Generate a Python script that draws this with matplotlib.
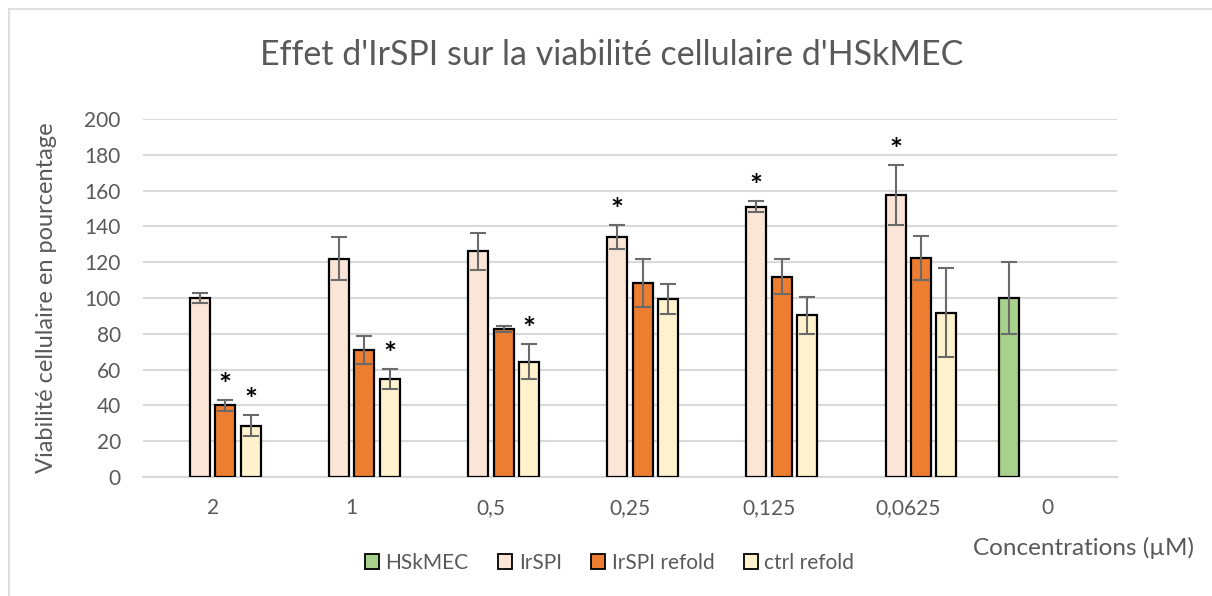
import numpy as np
import matplotlib.pyplot as plt
from matplotlib.patches import Patch
from matplotlib.lines import Line2D

plt.rcParams['font.family'] = ['Lato', 'DejaVu Sans']

# concentrations (µM) on the x axis
categories = ['2', '1', '0,5', '0,25', '0,125', '0,0625', '0']

# viability (%) and error bars per series; nan = no bar in that group
hskmec = [np.nan, np.nan, np.nan, np.nan, np.nan, np.nan, 100]
hskmec_err = [0, 0, 0, 0, 0, 0, 20]
irspi = [100, 122, 126, 134, 151, 157.5, np.nan]
irspi_err = [3, 12, 10.5, 6.7, 3.2, 16.6, 0]
irspi_refold = [40, 71, 82.5, 108.5, 112, 122.5, np.nan]
irspi_refold_err = [3, 8, 1.6, 13.3, 10, 12.2, 0]
ctrl_refold = [28.7, 54.5, 64.4, 99.5, 90.3, 91.8, np.nan]
ctrl_refold_err = [5.8, 5.6, 9.8, 8.6, 10.5, 25, 0]

# significant differences (asterisk above the bar)
sig_hskmec = [False] * 7
sig_irspi = [False, False, False, True, True, True, False]
sig_irspi_refold = [True, False, False, False, False, False, False]
sig_ctrl_refold = [True, True, True, False, False, False, False]

series = [
    ('HSkMEC', hskmec, hskmec_err, sig_hskmec, '#A9D18E'),
    ('IrSPI', irspi, irspi_err, sig_irspi, '#FBE5D6'),
    ('IrSPI refold', irspi_refold, irspi_refold_err, sig_irspi_refold, '#ED7D31'),
    ('ctrl refold', ctrl_refold, ctrl_refold_err, sig_ctrl_refold, '#FFF2CC'),
]

grey = '#595959'
fig = plt.figure(figsize=(12.12, 5.96), dpi=100)
ax = fig.add_axes([0.118, 0.1997, 0.8036, 0.6006])

x = np.arange(len(categories))
slot = 0.183
width = 0.144

for i, (name, vals, errs, sig, color) in enumerate(series):
    vals = np.array(vals, dtype=float)
    errs = np.array(errs, dtype=float)
    ok = np.isfinite(vals)
    xs = x[ok] + (i - 1.5) * slot
    ax.bar(xs, vals[ok], width=width, color=color, edgecolor='black',
           linewidth=1.6, zorder=3)
    ax.errorbar(xs, vals[ok], yerr=errs[ok], fmt='none', ecolor='#6a6a6a',
                elinewidth=1.5, capsize=6, capthick=1.5, zorder=4)
    for xi, v, e, s in zip(xs, vals[ok], errs[ok], np.array(sig)[ok]):
        if s:
            ax.annotate('*', (xi, v + e), xytext=(0, 0), textcoords='offset points',
                        ha='center', va='bottom', fontsize=22, fontweight='bold',
                        color='black', zorder=5)

ax.set_xlim(-0.5, len(categories) - 0.5)
ax.set_ylim(0, 200)
ax.set_yticks(np.arange(0, 201, 20))
ax.set_xticks(x)
ax.set_xticklabels(categories)
ax.tick_params(length=0, labelsize=15, labelcolor=grey)
ax.tick_params(axis='x', pad=15)
ax.tick_params(axis='y', pad=16)
ax.yaxis.grid(True, color='#d9d9d9', linewidth=1.5, zorder=0)
ax.set_axisbelow(True)
for side in ['top', 'right', 'left']:
    ax.spines[side].set_visible(False)
ax.spines['bottom'].set_color('#d9d9d9')
ax.spines['bottom'].set_linewidth(1.5)

ax.set_ylabel('Viabilité cellulaire en pourcentage', fontsize=17, color=grey, labelpad=20)
fig.text(0.894, 0.08, 'Concentrations (µM)', fontsize=17.5, color=grey,
         ha='center', va='center')
fig.text(0.505, 0.908, "Effet d'IrSPI sur la viabilité cellulaire d'HSkMEC",
         fontsize=24.5, color=grey, ha='center', va='center')

handles = [Patch(facecolor=c, edgecolor='black', linewidth=1.3, label=n)
           for n, _, _, _, c in series]
fig.legend(handles=handles, loc='center', bbox_to_anchor=(0.503, 0.056), ncol=4,
           frameon=False, fontsize=15, labelcolor=grey, handlelength=0.7,
           handleheight=0.7, handletextpad=0.3, columnspacing=1.4)

# chart area border (left and top)
fig.add_artist(Line2D([9 / 1212, 9 / 1212], [0, 1 - 9 / 596], transform=fig.transFigure,
                      color='#d9d9d9', linewidth=1.2))
fig.add_artist(Line2D([9 / 1212, 1], [1 - 9 / 596, 1 - 9 / 596], transform=fig.transFigure,
                      color='#d9d9d9', linewidth=1.2))

plt.savefig('out.png', dpi=100)
plt.close()
